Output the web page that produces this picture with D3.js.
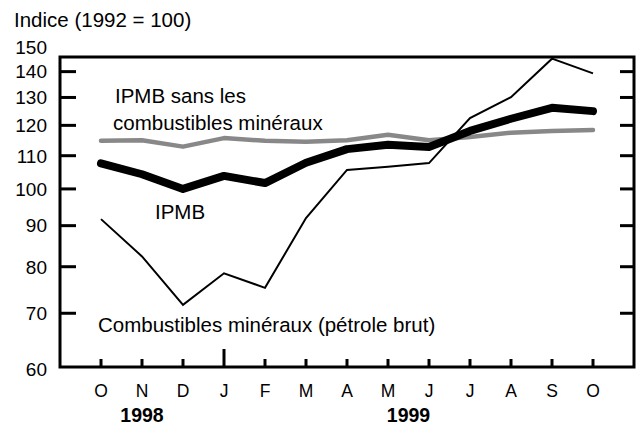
<!DOCTYPE html>
<html>
<head>
<meta charset="utf-8">
<script src="https://cdn.jsdelivr.net/npm/d3@7"></script>
<style>
  body { margin: 0; background: #fff; }
  text { font-family: "Liberation Sans", Arial, sans-serif; fill: #000; }
</style>
</head>
<body>
<div id="chart"></div>
<script>
// month labels, Oct 1998 -> Oct 1999
var months = ["O", "N", "D", "J", "F", "M", "A", "M", "J", "J", "A", "S", "O"];
var yTicks = [60, 70, 80, 90, 100, 110, 120, 130, 140, 150];

// IPMB sans les combustibles minéraux (gris)
var ipmbSans = [114.8, 115.0, 112.9, 115.7, 114.8, 114.5, 115.0, 116.8, 115.0, 116.1, 117.5, 118.1, 118.4];
// IPMB (trait épais)
var ipmb = [107.6, 104.3, 100.0, 103.8, 101.7, 107.8, 112.1, 113.5, 112.8, 118.1, 122.3, 126.2, 125.0];
// Combustibles minéraux (pétrole brut)
var combustibles = [91.7, 82.4, 71.7, 78.5, 75.3, 92.0, 105.6, 106.6, 107.7, 122.5, 130.1, 145.3, 139.3];

var years = [
  { label: "1998", from: 0, to: 2 },
  { label: "1999", from: 3, to: 12 }
];

var W = 639, H = 426;
// plot box (don't call it "top", that's window.top)
var pL = 60, pR = 634, pT = 57, pB = 367;

var svg = d3.select("#chart").append("svg")
  .attr("width", W).attr("height", H);

var x = d3.scalePoint()
  .domain(d3.range(months.length))
  .range([pL, pR])
  .padding(1);

var y = d3.scaleLog()
  .domain([60, 146])
  .range([pB, pT]);

// title
svg.append("text")
  .attr("x", 14).attr("y", 27)
  .style("font-size", "20.5px")
  .text("Indice (1992 = 100)");

// y labels
svg.selectAll(".ylab")
  .data(yTicks)
  .enter().append("text")
  .attr("class", "ylab")
  .attr("x", 47)
  .attr("y", function(d) { return y(d) + (d == 60 ? 2 : 0); })
  .attr("dy", "0.36em")
  .attr("text-anchor", "end")
  .style("font-size", "19px")
  .text(function(d) { return d; });

// inner ticks, left and right
var inner = yTicks.filter(function(d) { return d > 60 && d < 146; });
svg.selectAll(".ytl")
  .data(inner)
  .enter().append("line")
  .attr("x1", pL).attr("x2", pL + 16)
  .attr("y1", function(d) { return y(d); })
  .attr("y2", function(d) { return y(d); })
  .style("stroke", "#000").style("stroke-width", 3);
svg.selectAll(".ytr")
  .data(inner)
  .enter().append("line")
  .attr("x1", pR).attr("x2", pR - 14)
  .attr("y1", function(d) { return y(d); })
  .attr("y2", function(d) { return y(d); })
  .style("stroke", "#000").style("stroke-width", 3);

// x ticks (January is the long one)
svg.selectAll(".xt")
  .data(d3.range(months.length))
  .enter().append("line")
  .attr("x1", function(d) { return x(d); })
  .attr("x2", function(d) { return x(d); })
  .attr("y1", pB)
  .attr("y2", function(d) { return d == 3 ? pB - 18 : pB - 8; })
  .style("stroke", "#000").style("stroke-width", 3);

svg.selectAll(".xlab")
  .data(months)
  .enter().append("text")
  .attr("x", function(d, i) { return x(i); })
  .attr("y", 397)
  .attr("text-anchor", "middle")
  .style("font-size", "17.5px")
  .text(function(d) { return d; });

svg.selectAll(".year")
  .data(years)
  .enter().append("text")
  .attr("x", function(d) { return (x(d.from) + x(d.to)) / 2; })
  .attr("y", 422)
  .attr("text-anchor", "middle")
  .style("font-size", "19.5px")
  .style("font-weight", "bold")
  .text(function(d) { return d.label; });

// frame
svg.append("rect")
  .attr("x", pL).attr("y", pT)
  .attr("width", pR - pL).attr("height", pB - pT)
  .style("fill", "none").style("stroke", "#000").style("stroke-width", 3);

var line = d3.line()
  .x(function(d, i) { return x(i); })
  .y(function(d) { return y(d); });

svg.append("path").datum(ipmbSans)
  .attr("d", line)
  .style("fill", "none").style("stroke", "#888")
  .style("stroke-width", 4.5).style("stroke-linejoin", "round").style("stroke-linecap", "round");

svg.append("path").datum(ipmb)
  .attr("d", line)
  .style("fill", "none").style("stroke", "#000")
  .style("stroke-width", 8).style("stroke-linejoin", "round").style("stroke-linecap", "round");

svg.append("path").datum(combustibles)
  .attr("d", line)
  .style("fill", "none").style("stroke", "#000")
  .style("stroke-width", 2);

// series labels
svg.append("text").attr("x", 115).attr("y", 103)
  .style("font-size", "20.5px").text("IPMB sans les");
svg.append("text").attr("x", 113).attr("y", 130)
  .style("font-size", "20.5px").text("combustibles minéraux");
svg.append("text").attr("x", 155).attr("y", 219)
  .style("font-size", "20.5px").text("IPMB");
svg.append("text").attr("x", 98).attr("y", 332)
  .style("font-size", "20.5px").text("Combustibles minéraux (pétrole brut)");
</script>
</body>
</html>
